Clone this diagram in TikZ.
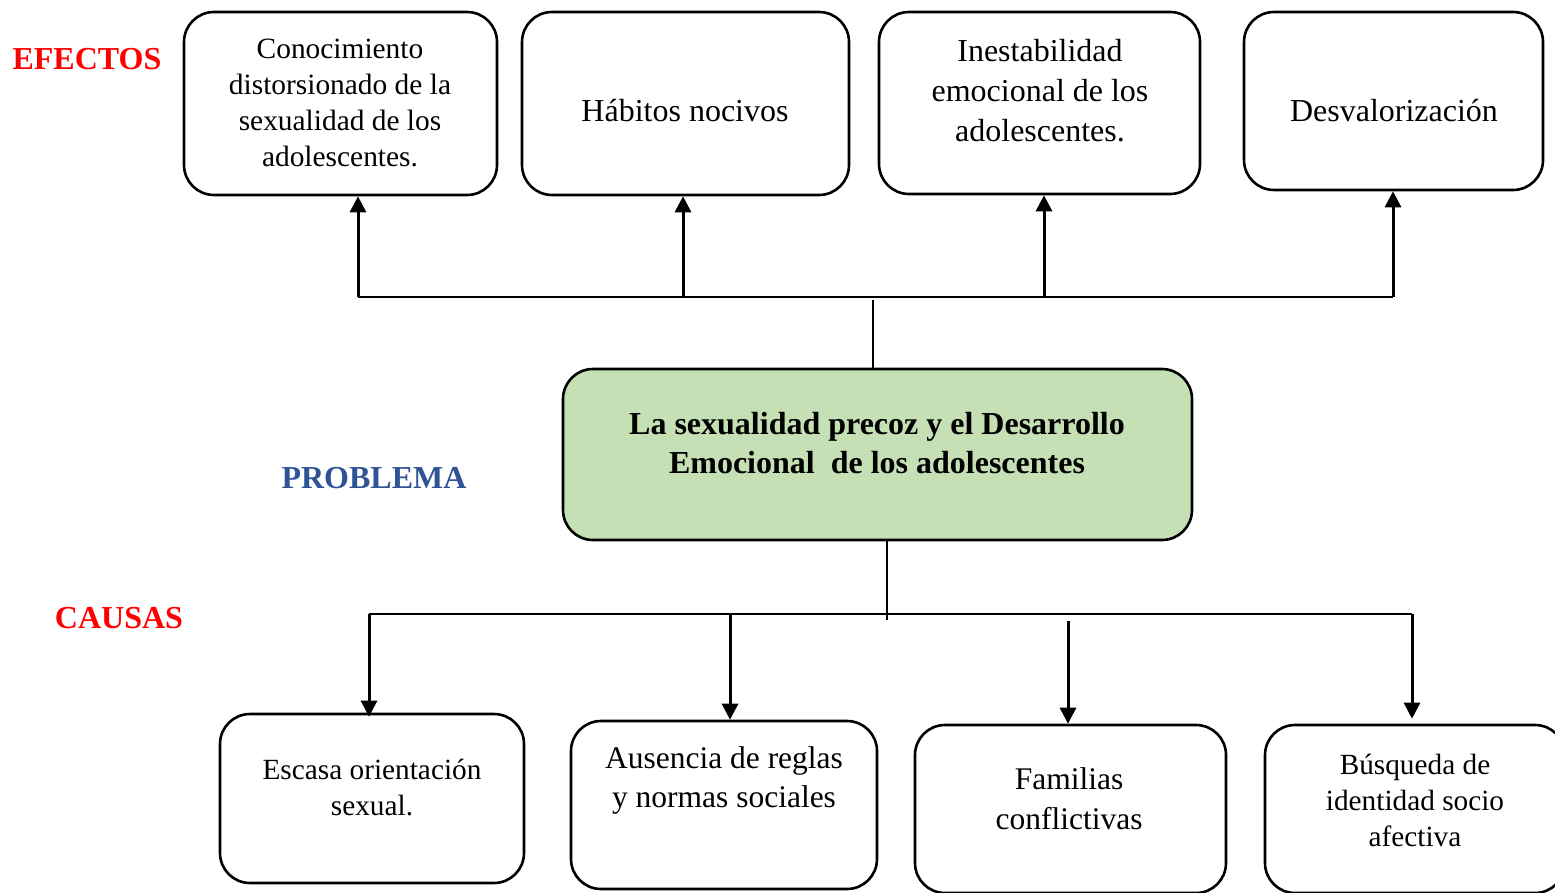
\documentclass[tikz,border=0pt]{standalone}
\usepackage{fontspec}
\setmainfont{Liberation Serif}
\usetikzlibrary{arrows.meta}
\definecolor{probgreen}{HTML}{C5E0B4}
\definecolor{probblue}{HTML}{2F5496}
\tikzset{
  box/.style={draw=black, line width=2.6pt, rounded corners=30pt, inner sep=0pt},
  txt/.style={align=center, inner sep=0pt, font=\fontsize{32}{36}\selectfont},
  btxt/.style={align=center, inner sep=0pt, font=\fontsize{29.3}{36}\selectfont},
  lab/.style={inner sep=0pt, font=\fontsize{32}{36}\selectfont\bfseries},
  arr/.style={line width=3pt, -{Triangle[width=16pt,length=16pt]}},
  bus/.style={line width=2pt},
  stem/.style={line width=1.3pt}
}
\begin{document}
\begin{tikzpicture}[x=1pt,y=-1pt]
\useasboundingbox (0,0) rectangle (1555,893);
% labels
\node[lab, text=red] (efectos) at (87,59) {EFECTOS};
\node[lab, text=probblue] (problema) at (374,478) {PROBLEMA};
\node[lab, text=red] (causas) at (119,618) {CAUSAS};
% effect boxes
\node[box, minimum width=313pt, minimum height=183pt] (b1) at (340.5,103.5) {};
\node[txt, font=\fontsize{29.4}{36}\selectfont] (b1t) at (340,103) {Conocimiento\\distorsionado de la\\sexualidad de los\\adolescentes.};
\node[box, minimum width=327pt, minimum height=183pt] (b2) at (685.5,103.5) {};
\node[txt] (b2t) at (685,111) {Hábitos nocivos};
\node[box, minimum width=321pt, minimum height=182pt] (b3) at (1039.5,103) {};
\node[txt, font=\fontsize{32}{40}\selectfont] (b3t) at (1040,91) {Inestabilidad\\emocional de los\\adolescentes.};
\node[box, minimum width=299pt, minimum height=178pt] (b4) at (1393.5,101) {};
\node[txt] (b4t) at (1394,111) {Desvalorización};
% problem box
\node[box, fill=probgreen, minimum width=629pt, minimum height=171pt] (c) at (877.5,454.5) {};
\node[txt, font=\fontsize{32}{39}\selectfont\bfseries] (ct) at (877,443) {La sexualidad precoz y el Desarrollo\\Emocional\ \ de los adolescentes};
% cause boxes
\node[box, minimum width=304pt, minimum height=169pt] (d1) at (372,798.5) {};
\node[btxt] (d1t) at (372,788) {Escasa orientación\\sexual.};
\node[box, minimum width=306pt, minimum height=168pt] (d2) at (724,805) {};
\node[btxt, font=\fontsize{31.5}{39}\selectfont] (d2t) at (724,780) {Ausencia de reglas\\y normas sociales};
\node[box, minimum width=311pt, minimum height=168pt] (d3) at (1070.5,809) {};
\node[btxt, font=\fontsize{31.5}{40}\selectfont] (d3t) at (1069,799) {Familias\\conflictivas};
\node[box, minimum width=300pt, minimum height=168pt] (d4) at (1415,809) {};
\node[btxt] (d4t) at (1415,800) {Búsqueda de\\identidad socio\\afectiva};
% top connectors
\coordinate (t1) at (358,297);
\coordinate (t2) at (683,297);
\coordinate (t3) at (1044,297);
\coordinate (t4) at (1393,297);
\coordinate (ts) at (873,300);
\draw[bus] (t1) -- (t4);
\draw[arr] (t1) -- (t1 |- b1.south);
\draw[arr] (t2) -- (t2 |- b2.south);
\draw[arr] (t3) -- (t3 |- b3.south);
\draw[arr] (t4) -- (t4 |- b4.south);
\draw[stem] (ts) -- (ts |- c.north);
% bottom connectors
\coordinate (k1) at (369,614);
\coordinate (k2) at (730,614);
\coordinate (k3) at (1068,621);
\coordinate (k4) at (1412,614);
\coordinate (bs) at (887,620);
\draw[stem] (bs |- c.south) -- (bs);
\draw[bus] (k1) -- (k4);
\draw[arr] (k1) -- ([yshift=-4pt]k1 |- d1.north);
\draw[arr] (k2) -- (k2 |- d2.north);
\draw[arr] (k3) -- (k3 |- d3.north);
\draw[arr] (k4) -- ([yshift=5pt]k4 |- d4.north);
\end{tikzpicture}
\end{document}
